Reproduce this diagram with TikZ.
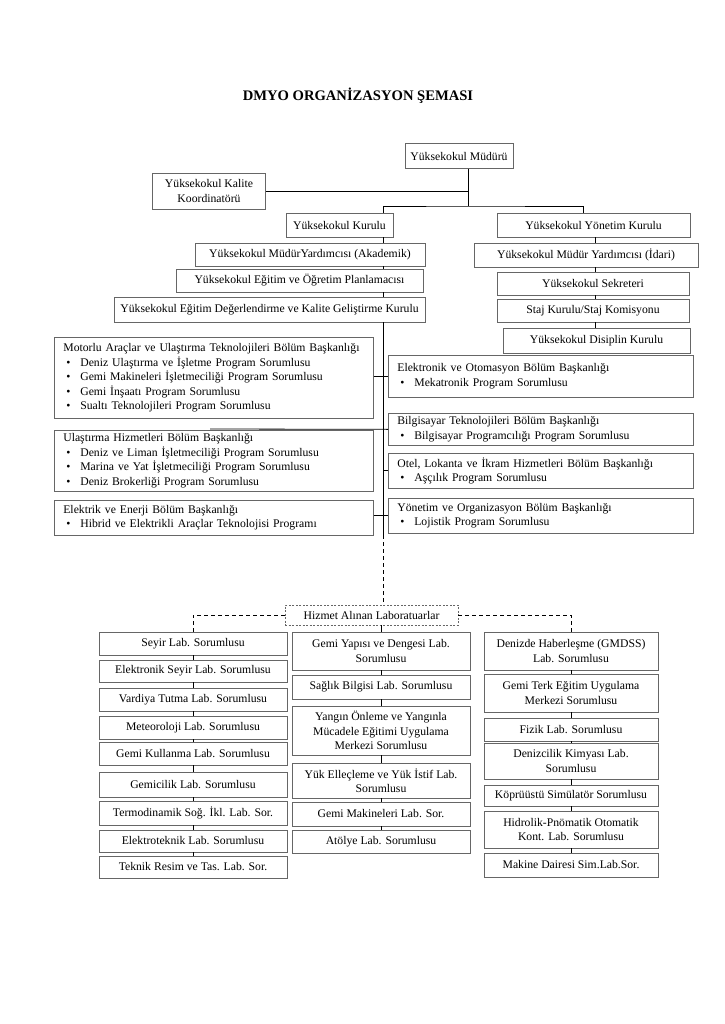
\documentclass[tikz,border=0pt]{standalone}
\usepackage{fontspec}
\setmainfont{Liberation Serif}
\usetikzlibrary{calc}

\newcommand\bodyfont{\fontsize{11.7}{14.5}\selectfont}
\newcommand\itm[1]{\\\hspace*{3pt}\makebox[14pt][l]{\textbullet}#1}

\tikzset{
  box/.style={draw=black!60, line width=0.7pt, font=\bodyfont, align=center, inner sep=2pt},
  unitbox/.style={box, align=left, anchor=north west, inner xsep=9pt, inner ysep=3pt, text width=#1},
  conn/.style={line width=0.8pt},
  tick/.style={line width=0.6pt},
  dashconn/.style={conn, dash pattern=on 4pt off 3pt},
}

\begin{document}
\begin{tikzpicture}[x=1pt, y=-1pt, line cap=butt, line join=miter]

\useasboundingbox[fill=white] (0,0) rectangle (724,1024);

\node[font=\fontsize{14.6}{17}\selectfont\bfseries] (title) at (358,96) {DMYO ORGANİZASYON ŞEMASI};

% top of the chart
\node[box, minimum width=108pt, minimum height=25pt] (mudur) at (459,156) {Yüksekokul Müdürü};
\node[box, minimum width=113pt, minimum height=36pt] (kalite) at (209,191) {Yüksekokul Kalite\\Koordinatörü};
\node[box, minimum width=107pt, minimum height=24pt] (kurulu) at (339.5,225) {Yüksekokul Kurulu};
\node[box, minimum width=193pt, minimum height=24pt] (yonetim) at (593.5,225) {Yüksekokul Yönetim Kurulu};

\node[box, minimum width=230pt, minimum height=23pt] (akademik) at (310,254.5) {Yüksekokul MüdürYardımcısı (Akademik)};
\node[box, minimum width=247pt, minimum height=23pt] (planlama) at (299.5,280.5) {Yüksekokul Eğitim ve Öğretim Planlamacısı};
\node[box, minimum width=311pt, minimum height=25pt] (kalitekurul) at (269.5,309.5) {Yüksekokul Eğitim Değerlendirme ve Kalite Geliştirme Kurulu};

\node[box, minimum width=224pt, minimum height=24pt] (idari) at (586,255) {Yüksekokul Müdür Yardımcısı (İdari)};
\node[box, minimum width=192pt, minimum height=23pt] (sekreter) at (593,283.5) {Yüksekokul Sekreteri};
\node[box, minimum width=192pt, minimum height=23pt] (staj) at (593,310.5) {Staj Kurulu/Staj Komisyonu};
\node[box, minimum width=187pt, minimum height=25pt] (disiplin) at (596.5,340.5) {Yüksekokul Disiplin Kurulu};

% departments
\node[unitbox=301pt, minimum height=81pt] (motorlu) at (54,337) {Motorlu Araçlar ve Ulaştırma Teknolojileri Bölüm Başkanlığı\itm{Deniz Ulaştırma ve İşletme Program Sorumlusu}\itm{Gemi Makineleri İşletmeciliği Program Sorumlusu}\itm{Gemi İnşaatı Program Sorumlusu}\itm{Sualtı Teknolojileri Program Sorumlusu}};
\node[unitbox=301pt, minimum height=61pt] (ulastirma) at (54,430) {Ulaştırma Hizmetleri Bölüm Başkanlığı\itm{Deniz ve Liman İşletmeciliği Program Sorumlusu}\itm{Marina ve Yat İşletmeciliği Program Sorumlusu}\itm{Deniz Brokerliği Program Sorumlusu}};
\node[unitbox=301pt, minimum height=35pt] (elektrik) at (54,500) {Elektrik ve Enerji Bölüm Başkanlığı\itm{Hibrid ve Elektrikli Araçlar Teknolojisi Programı}};

\node[unitbox=287pt, minimum height=42pt] (elektronik) at (388,355) {Elektronik ve Otomasyon Bölüm Başkanlığı\itm{Mekatronik Program Sorumlusu}};
\node[unitbox=287pt, minimum height=32pt] (bilgisayar) at (388,413) {Bilgisayar Teknolojileri Bölüm Başkanlığı\itm{Bilgisayar Programcılığı Program Sorumlusu}};
\node[unitbox=287pt, minimum height=35pt] (otel) at (388,453) {Otel, Lokanta ve İkram Hizmetleri Bölüm Başkanlığı\itm{Aşçılık Program Sorumlusu}};
\node[unitbox=287pt, minimum height=35pt] (organizasyon) at (388,498) {Yönetim ve Organizasyon Bölüm Başkanlığı\itm{Lojistik Program Sorumlusu}};

% laboratories
\node[box, dash pattern=on 2pt off 1.5pt, minimum width=173pt, minimum height=20pt] (hizmet) at (371.5,615) {Hizmet Alınan Laboratuarlar};

\node[box, minimum width=188pt, minimum height=23pt] (seyir) at (193,643.5) {Seyir Lab. Sorumlusu};
\node[box, minimum width=188pt, minimum height=22pt] (eseyir) at (193,671) {Elektronik Seyir Lab. Sorumlusu};
\node[box, minimum width=188pt, minimum height=23pt] (vardiya) at (193,699.5) {Vardiya Tutma Lab. Sorumlusu};
\node[box, minimum width=188pt, minimum height=23pt] (meteo) at (193,727.5) {Meteoroloji Lab. Sorumlusu};
\node[box, minimum width=188pt, minimum height=23pt] (kullanma) at (193,753.5) {Gemi Kullanma Lab. Sorumlusu};
\node[box, minimum width=188pt, minimum height=25pt] (gemicilik) at (193,784.5) {Gemicilik Lab. Sorumlusu};
\node[box, minimum width=188pt, minimum height=24pt] (termo) at (193,813) {Termodinamik Soğ. İkl. Lab. Sor.};
\node[box, minimum width=188pt, minimum height=22pt] (elektro) at (193,841) {Elektroteknik Lab. Sorumlusu};
\node[box, minimum width=188pt, minimum height=22pt] (teknik) at (193,867) {Teknik Resim ve Tas. Lab. Sor.};

\node[box, minimum width=178pt, minimum height=38pt] (gemiyapi) at (381,651) {Gemi Yapısı ve Dengesi Lab.\\Sorumlusu};
\node[box, minimum width=178pt, minimum height=24pt] (saglik) at (381,687) {Sağlık Bilgisi Lab. Sorumlusu};
\node[box, minimum width=178pt, minimum height=49pt] (yangin) at (381,730.5) {Yangın Önleme ve Yangınla\\Mücadele Eğitimi Uygulama\\Merkezi Sorumlusu};
\node[box, minimum width=178pt, minimum height=35pt] (yuk) at (381,780.5) {Yük Elleçleme ve Yük İstif Lab.\\Sorumlusu};
\node[box, minimum width=178pt, minimum height=24pt] (gemimak) at (381,814) {Gemi Makineleri Lab. Sor.};
\node[box, minimum width=178pt, minimum height=23pt] (atolye) at (381,841.5) {Atölye Lab. Sorumlusu};

\node[box, minimum width=174pt, minimum height=38pt] (haberlesme) at (571,651) {Denizde Haberleşme (GMDSS)\\Lab. Sorumlusu};
\node[box, minimum width=174pt, minimum height=38pt] (terk) at (571,693) {Gemi Terk Eğitim Uygulama\\Merkezi Sorumlusu};
\node[box, minimum width=174pt, minimum height=23pt] (fizik) at (571,729.5) {Fizik Lab. Sorumlusu};
\node[box, minimum width=174pt, minimum height=36pt] (kimya) at (571,761) {Denizcilik Kimyası Lab.\\Sorumlusu};
\node[box, minimum width=174pt, minimum height=21pt] (kopru) at (571,795.5) {Köprüüstü Simülatör Sorumlusu};
\node[box, minimum width=174pt, minimum height=37pt] (hidrolik) at (571,829.5) {Hidrolik-Pnömatik Otomatik\\Kont. Lab. Sorumlusu};
\node[box, minimum width=174pt, minimum height=24pt] (makine) at (571,865) {Makine Dairesi Sim.Lab.Sor.};

% connectors
\coordinate (jb) at (468,206);
\coordinate (bx) at (583,206);
\coordinate (sp) at (383,0);
\coordinate (rsp) at (595,0);
\coordinate (dsh) at (383,535);
\coordinate (ulasj) at (210,429);

\draw[conn] (mudur.south -| jb) -- (jb);
\draw[conn] (kalite.east) -- (kalite.east -| jb);
\draw[conn] (kurulu.north -| sp) |- (jb) -- (bx) -- (yonetim.north -| bx);

\draw[conn] (kurulu.south -| sp) -- (akademik.north -| sp)
  (akademik.south -| sp) -- (planlama.north -| sp)
  (planlama.south -| sp) -- (kalitekurul.north -| sp);
\draw[conn] (yonetim.south -| rsp) -- (idari.north -| rsp)
  (idari.south -| rsp) -- (sekreter.north -| rsp)
  (sekreter.south -| rsp) -- (staj.north -| rsp)
  (staj.south -| rsp) -- (disiplin.north -| rsp);

\draw[conn] (kalitekurul.south -| sp) -- (dsh);
\draw[conn] (motorlu.east |- elektronik.west) -- (elektronik.west);
\draw[conn] (ulasj) -- (bilgisayar.west);
\draw[conn] (otel.west -| sp) -- (otel.west);
\draw[conn] (elektrik.east |- organizasyon.west) -- (organizasyon.west);

\draw[dashconn] (dsh) -- (hizmet.north -| dsh);
\draw[dashconn] (hizmet.west) -| (seyir.north);
\draw[dashconn] (hizmet.east) -| (haberlesme.north);
\draw[conn] (hizmet.south -| gemiyapi.north) -- (gemiyapi.north);

\draw[tick] (seyir) -- (eseyir) (eseyir) -- (vardiya) (vardiya) -- (meteo)
  (meteo) -- (kullanma) (kullanma) -- (gemicilik) (gemicilik) -- (termo)
  (termo) -- (elektro) (elektro) -- (teknik);
\draw[tick] (gemiyapi) -- (saglik) (saglik) -- (yangin) (yangin) -- (yuk)
  (yuk) -- (gemimak) (gemimak) -- (atolye);
\draw[tick] (haberlesme) -- (terk) (terk) -- (fizik) (fizik) -- (kimya)
  (kimya) -- (kopru) (kopru) -- (hidrolik) (hidrolik) -- (makine);

\end{tikzpicture}
\end{document}
